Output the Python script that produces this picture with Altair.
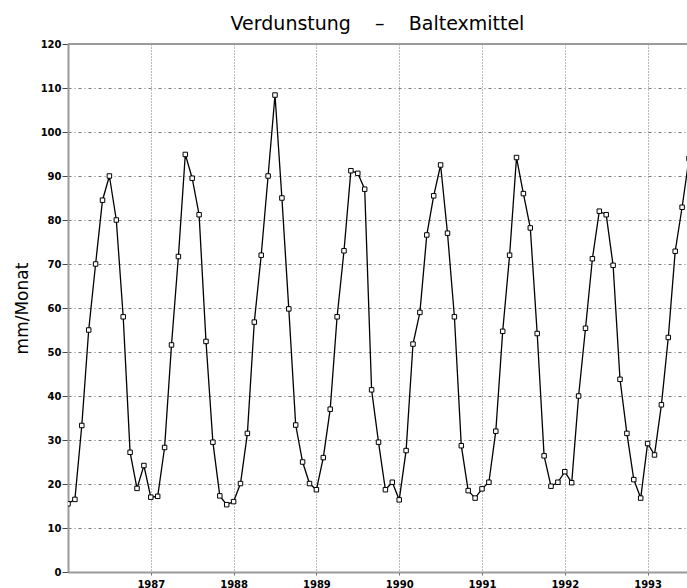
import altair as alt
import pandas as pd

# Monthly evaporation, Baltex mean (mm/Monat), starting January 1986
v1986 = [15.5, 16.5, 33.3, 55.0, 70.0, 84.5, 90.0, 80.0, 58.0, 27.2, 19.0, 24.2]
v1987 = [17.0, 17.2, 28.3, 51.6, 71.7, 94.9, 89.5, 81.2, 52.4, 29.5, 17.3, 15.3]
v1988 = [16.0, 20.1, 31.5, 56.8, 72.0, 90.0, 108.4, 85.0, 59.8, 33.4, 25.0, 20.1]
v1989 = [18.7, 26.0, 37.0, 58.0, 73.0, 91.2, 90.6, 87.0, 41.4, 29.5, 18.7, 20.4]
v1990 = [16.4, 27.6, 51.8, 59.0, 76.6, 85.5, 92.5, 77.0, 58.0, 28.7, 18.5, 16.8]
v1991 = [18.9, 20.4, 32.0, 54.7, 72.0, 94.2, 86.0, 78.2, 54.2, 26.4, 19.5, 20.4]
v1992 = [22.8, 20.3, 40.0, 55.4, 71.2, 82.0, 81.2, 69.7, 43.8, 31.5, 21.0, 16.8]
v1993 = [29.2, 26.6, 38.0, 53.3, 72.9, 82.9, 94.0]

start_year = 1986
year_labels = [1987, 1988, 1989, 1990, 1991, 1992, 1993]
y_ticks = [0, 10, 20, 30, 40, 50, 60, 70, 80, 90, 100, 110, 120]

values = v1986 + v1987 + v1988 + v1989 + v1990 + v1991 + v1992 + v1993
t = [start_year + i / 12 for i in range(len(values))]
df = pd.DataFrame({"t": t, "v": values})

W, H = 619, 528

x_enc = alt.X(
    "t:Q",
    scale=alt.Scale(domain=[1986, 1986 + W / 82.8], nice=False, zero=False),
    axis=alt.Axis(
        values=year_labels, format="d", title=None,
        grid=True, gridDash=[1, 2], gridColor="#777", gridWidth=1,
        domainColor="#9a9a9a", domainWidth=2,
        tickColor="#666", tickSize=3,
        labelFont="DejaVu Sans", labelFontSize=10, labelFontWeight="bold",
        labelColor="black", labelPadding=4,
    ),
)
y_enc = alt.Y(
    "v:Q",
    scale=alt.Scale(domain=[0, 120], nice=False, zero=True),
    axis=alt.Axis(
        values=y_ticks, title="mm/Monat",
        grid=True, gridDash=[3, 3, 1, 3], gridColor="#777", gridWidth=1,
        domainColor="#9a9a9a", domainWidth=2,
        tickColor="#444", tickSize=6,
        labelFont="DejaVu Sans", labelFontSize=10, labelFontWeight="bold",
        labelColor="black", labelPadding=1,
        titleFont="DejaVu Sans", titleFontSize=17, titleFontWeight="normal",
        titleColor="black", titleX=-46, titleY=H / 2, titleAngle=270,
        titleAlign="center", titleBaseline="middle",
    ),
)

line = alt.Chart(df).mark_line(color="black", strokeWidth=1.3, clip=True).encode(x=x_enc, y=y_enc)
pts = alt.Chart(df).mark_point(
    shape="square", filled=True, fill="white", stroke="black",
    strokeWidth=1, size=20, opacity=1, clip=True,
).encode(x="t:Q", y="v:Q")
top = alt.Chart(df).mark_rule(color="#9a9a9a", strokeWidth=2).encode(y=alt.datum(120))

chart = alt.layer(line, pts, top).properties(
    width=W, height=H,
    autosize="none",
    padding={"left": 68, "top": 44, "right": 0, "bottom": 16},
    title=alt.TitleParams(
        "Verdunstung\u00a0\u00a0\u00a0\u00a0–\u00a0\u00a0\u00a0\u00a0Baltexmittel",
        font="DejaVu Sans", fontSize=19, fontWeight="normal", color="black",
        anchor="middle", baseline="alphabetic", offset=10, dy=20,
    ),
).configure_view(stroke=None).configure(background="white")

chart.save("out.html", embed_options={"renderer": "svg", "actions": False})
